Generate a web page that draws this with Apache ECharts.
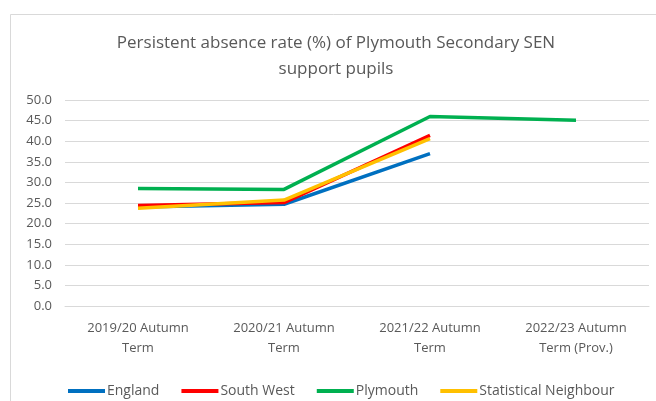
<!DOCTYPE html>
<html>
<head>
<meta charset="utf-8">
<script src="https://cdn.jsdelivr.net/npm/echarts@6/dist/echarts.min.js"></script>
<style>
  html, body { margin: 0; padding: 0; background: #fff; }
  #chart { width: 656px; height: 401px; }
</style>
</head>
<body>
<div id="chart"></div>
<script>
// Terms shown along the x axis
const terms = [
  '2019/20 Autumn\nTerm',
  '2020/21 Autumn\nTerm',
  '2021/22 Autumn\nTerm',
  '2022/23 Autumn\nTerm (Prov.)'
];

// Persistent absence rate (%) for each comparison group
const england = [24.0, 24.7, 37.0, null];
const southWest = [24.4, 25.1, 41.4, null];
const plymouth = [28.5, 28.3, 46.0, 45.1];
const statNeighbour = [23.7, 25.7, 40.6, null];

const yMin = 0, yMax = 50, yStep = 5;

const textColor = '#595959';
const font = 'Open Sans';

const chart = echarts.init(document.getElementById('chart'));

function lineSeries(name, data, color) {
  return {
    name: name,
    type: 'line',
    data: data,
    symbol: 'none',
    connectNulls: false,
    lineStyle: { width: 3.5, color: color },
    itemStyle: { color: color }
  };
}

chart.setOption({
  animation: false,
  backgroundColor: '#fff',
  textStyle: { fontFamily: font },
  graphic: [{
    type: 'rect',
    shape: { x: 10.5, y: 14.5, width: 700, height: 420 },
    style: { fill: 'none', stroke: '#d9d9d9', lineWidth: 1 },
    silent: true,
    z: -1
  }],
  title: {
    text: 'Persistent absence rate (%) of Plymouth Secondary SEN\nsupport pupils',
    left: 331,
    top: 25,
    textAlign: 'center',
    textStyle: {
      fontFamily: font,
      fontSize: 17,
      fontWeight: 'normal',
      color: textColor,
      lineHeight: 26
    }
  },
  legend: {
    left: 63,
    top: 379,
    itemWidth: 37,
    itemHeight: 4,
    itemGap: 22,
    icon: 'rect',
    textStyle: { fontFamily: font, fontSize: 14, color: textColor, padding: [0, 0, 0, -3] },
    data: ['England', 'South West', 'Plymouth', 'Statistical Neighbour']
  },
  grid: { left: 65, right: 7, top: 100, bottom: 95, containLabel: false },
  xAxis: {
    type: 'category',
    data: terms,
    boundaryGap: true,
    axisLine: { show: true, lineStyle: { color: '#d9d9d9' } },
    axisTick: { show: false },
    axisLabel: {
      color: textColor,
      fontFamily: font,
      fontSize: 13,
      lineHeight: 20,
      margin: 12,
      interval: 0
    }
  },
  yAxis: {
    type: 'value',
    min: yMin,
    max: yMax,
    interval: yStep,
    axisLine: { show: false },
    axisTick: { show: false },
    splitLine: { lineStyle: { color: '#d9d9d9', width: 1 } },
    axisLabel: {
      color: textColor,
      fontFamily: font,
      fontSize: 13,
      margin: 13,
      formatter: v => v.toFixed(1)
    }
  },
  series: [
    lineSeries('England', england, '#0070C0'),
    lineSeries('South West', southWest, '#FF0000'),
    lineSeries('Plymouth', plymouth, '#00B050'),
    lineSeries('Statistical Neighbour', statNeighbour, '#FFC000')
  ]
});
</script>
</body>
</html>
